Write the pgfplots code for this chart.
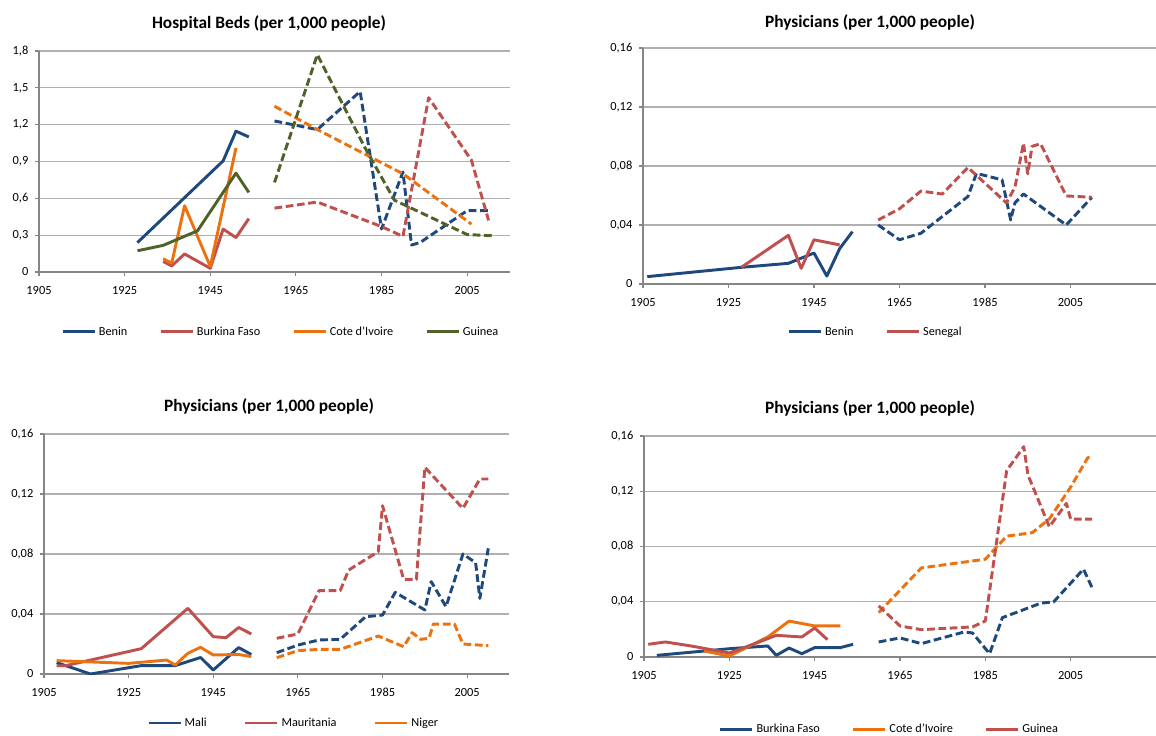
\documentclass[border=0pt]{standalone}
\usepackage{pgfplots}
\pgfplotsset{compat=1.18}
\usepackage{fontspec}
\setmainfont{Carlito}

\definecolor{cblue}{RGB}{31,73,125}
\definecolor{cred}{RGB}{192,80,77}
\definecolor{corange}{RGB}{236,114,16}
\definecolor{cgreen}{RGB}{79,98,40}
\definecolor{gridgray}{RGB}{176,176,176}
\definecolor{axisgray}{RGB}{134,134,134}

\pgfplotsset{
  panel/.style={
    scale only axis,
    anchor=south west,
    axis x line*=bottom,
    axis y line*=left,
    axis line style={axisgray, line width=0.9pt},
    xmin=1905,
    xtick={1905,1925,1945,1965,1985,2005},
    ymin=0,
    tick align=outside,
    major tick length=3pt,
    tick style={axisgray, line width=0.8pt},
    ymajorgrids,
    major grid style={gridgray, line width=0.9pt},
    ticklabel style={font=\fontsize{9.3}{10}\selectfont, /pgf/number format/assume math mode=true},
    xticklabel style={/pgf/number format/1000 sep={}, yshift=-4pt},
    yticklabel style={/pgf/number format/fixed, /pgf/number format/use comma,
      /pgf/number format/precision=2, xshift=-1.5pt},
    every axis plot/.append style={line width=2.2pt, line join=round},
    legend style={draw=none, fill=none, anchor=center, legend columns=-1,
      font=\fontsize{9.2}{10}\selectfont, inner sep=0pt,
      /tikz/every even column/.append style={column sep=22pt}},
    legend image code/.code={\draw[#1] (0pt,0pt) -- (24pt,0pt);},
  },
  dsh/.style={dash pattern=on 5.8pt off 2.7pt, forget plot},
}

\begin{document}
\begin{tikzpicture}
\useasboundingbox (0pt,0pt) rectangle (867pt,-551.25pt);

% Hospital beds
\begin{axis}[panel, at={(29.25pt,-204pt)}, width=353.25pt, height=165.75pt,
  xmax=2015, ymax=1.8, ytick={0,0.3,0.6,0.9,1.2,1.5,1.8},
  yticklabel style={/pgf/number format/precision=1},
  legend style={at={(0.514,-0.271)}}]
\addplot[cblue] coordinates {(1928,0.24)(1948,0.905)(1951,1.147)(1954,1.10)};
\addlegendentry{Benin}
\addplot[cred] coordinates {(1934,0.085)(1936,0.05)(1939,0.147)(1945,0.03)(1948,0.35)(1951,0.28)(1954,0.435)};
\addlegendentry{Burkina Faso}
\addplot[corange] coordinates {(1934,0.108)(1936,0.073)(1939,0.54)(1945,0.045)(1951,1.01)};
\addlegendentry{Cote d'Ivoire}
\addplot[cgreen] coordinates {(1928,0.173)(1934,0.217)(1942,0.335)(1951,0.805)(1954,0.648)};
\addlegendentry{Guinea}
\addplot[cblue, dsh] coordinates {(1960,1.23)(1970,1.16)(1980,1.47)(1985,0.35)(1990,0.815)(1992,0.22)(1994,0.24)(2005,0.50)(2010,0.50)};
\addplot[cred, dsh] coordinates {(1960,0.52)(1970,0.57)(1985,0.37)(1990,0.29)(1996,1.42)(2006,0.91)(2010,0.42)};
\addplot[corange, dsh] coordinates {(1960,1.35)(1970,1.16)(1990,0.8)(2006,0.39)};
\addplot[cgreen, dsh] coordinates {(1960,0.73)(1970,1.77)(1981,1.02)(1988,0.585)(2005,0.305)(2011,0.295)};
\end{axis}

% Physicians: Benin, Senegal
\begin{axis}[panel, at={(482.25pt,-213pt)}, width=384.75pt, height=177pt,
  xmax=2025, ymax=0.16, ytick={0,0.04,0.08,0.12,0.16},
  legend style={at={(0.454,-0.203)}}]
\addplot[cblue] coordinates {(1906,0.005)(1928,0.0113)(1939,0.014)(1945,0.021)(1948,0.0054)(1951,0.024)(1954,0.0355)};
\addlegendentry{Benin}
\addplot[cred] coordinates {(1928,0.0113)(1939,0.033)(1942,0.0106)(1945,0.030)(1951,0.0265)};
\addlegendentry{Senegal}
\addplot[cblue, dsh] coordinates {(1960,0.040)(1965,0.030)(1970,0.0344)(1981,0.0593)(1983,0.075)(1989,0.0706)(1991,0.0434)(1992,0.055)(1994,0.061)(2004,0.040)(2010,0.0588)};
\addplot[cred, dsh] coordinates {(1960,0.0434)(1965,0.051)(1970,0.063)(1975,0.061)(1981,0.079)(1990,0.055)(1992,0.0656)(1994,0.0955)(1995,0.0747)(1996,0.0933)(1998,0.0951)(2004,0.0597)(2010,0.0588)};
\end{axis}

% Physicians: Mali, Mauritania, Niger
\begin{axis}[panel, at={(33pt,-505.5pt)}, width=349.1pt, height=180pt,
  xmax=2015, ymax=0.16, ytick={0,0.04,0.08,0.12,0.16},
  legend style={at={(0.537,-0.204)}, /tikz/every even column/.append style={column sep=26pt}}]
\addplot[cblue] coordinates {(1908,0.0076)(1916,0)(1928,0.0056)(1936,0.0056)(1942,0.011)(1945,0.0027)(1951,0.0176)(1954,0.013)};
\addlegendentry{Mali}
\addplot[cred] coordinates {(1908,0.0055)(1910,0.0055)(1928,0.0169)(1939,0.0438)(1945,0.0249)(1948,0.0242)(1951,0.031)(1954,0.0267)};
\addlegendentry{Mauritania}
\addplot[corange] coordinates {(1908,0.0089)(1925,0.0071)(1934,0.0093)(1936,0.006)(1939,0.0138)(1942,0.0178)(1945,0.0127)(1951,0.013)(1954,0.0116)};
\addlegendentry{Niger}
\addplot[cblue, dsh] coordinates {(1960,0.0142)(1965,0.0193)(1970,0.0227)(1975,0.0231)(1981,0.0382)(1985,0.0393)(1988,0.0544)(1995,0.0427)(1996.5,0.0616)(2000,0.0449)(2004,0.08)(2007,0.0742)(2008,0.0504)(2010,0.0838)};
\addplot[cred, dsh] coordinates {(1960,0.0238)(1965,0.0267)(1970,0.0556)(1975,0.0556)(1977,0.0693)(1984,0.0816)(1985,0.1122)(1990,0.0631)(1993,0.0631)(1995,0.1378)(2004,0.1104)(2008,0.13)(2010,0.13)};
\addplot[corange, dsh] coordinates {(1960,0.0109)(1965,0.0156)(1970,0.0164)(1975,0.0164)(1984,0.0253)(1990,0.0182)(1992,0.0276)(1994,0.0231)(1996,0.0238)(1997,0.0333)(2002,0.0333)(2004,0.02)(2010,0.0189)};
\end{axis}

% Physicians: Burkina Faso, Cote d'Ivoire, Guinea
\begin{axis}[panel, at={(483pt,-492.75pt)}, width=384pt, height=165.75pt,
  xmax=2025, ymax=0.16, ytick={0,0.04,0.08,0.12,0.16},
  legend style={at={(0.480,-0.326)}}]
\addplot[cblue] coordinates {(1908,0.0012)(1925,0.006)(1934,0.008)(1936,0.0012)(1939,0.0065)(1942,0.0024)(1945,0.0068)(1951,0.0068)(1954,0.0092)};
\addlegendentry{Burkina Faso}
\addplot[corange] coordinates {(1919,0.0044)(1925,0.0007)(1934,0.0145)(1939,0.026)(1945,0.0225)(1951,0.0225)};
\addlegendentry{Cote d'Ivoire}
\addplot[cred] coordinates {(1906,0.0092)(1910,0.0109)(1916,0.008)(1925,0.0029)(1931,0.0097)(1936,0.0157)(1942,0.0145)(1945,0.021)(1948,0.0126)};
\addlegendentry{Guinea}
\addplot[cblue, dsh] coordinates {(1960,0.0109)(1965,0.0138)(1970,0.0097)(1980,0.0181)(1982,0.0174)(1986,0.0024)(1989,0.0285)(1994,0.0343)(1998,0.039)(2001,0.0399)(2008,0.0636)(2010,0.0503)};
\addplot[corange, dsh] coordinates {(1960,0.0321)(1965,0.0483)(1970,0.0645)(1985,0.0708)(1990,0.0875)(1996,0.09)(2000,0.1)(2005,0.123)(2009,0.1443)(2010,0.1443)};
\addplot[cred, dsh] coordinates {(1960,0.037)(1965,0.0225)(1970,0.0198)(1982,0.0218)(1985,0.0261)(1990,0.1349)(1994,0.1523)(1995,0.1317)(2000,0.0943)(2004,0.1112)(2005,0.0998)(2010,0.0998)};
\end{axis}

\begin{scope}[every node/.style={font=\bfseries\fontsize{13}{15}\selectfont}]
\node at (201.75pt,-17.25pt) {Hospital Beds (per 1,000 people)};
\node at (652.5pt,-16.5pt) {Physicians (per 1,000 people)};
\node at (201.75pt,-304.5pt) {Physicians (per 1,000 people)};
\node at (652.5pt,-306pt) {Physicians (per 1,000 people)};
\end{scope}
\end{tikzpicture}
\end{document}
